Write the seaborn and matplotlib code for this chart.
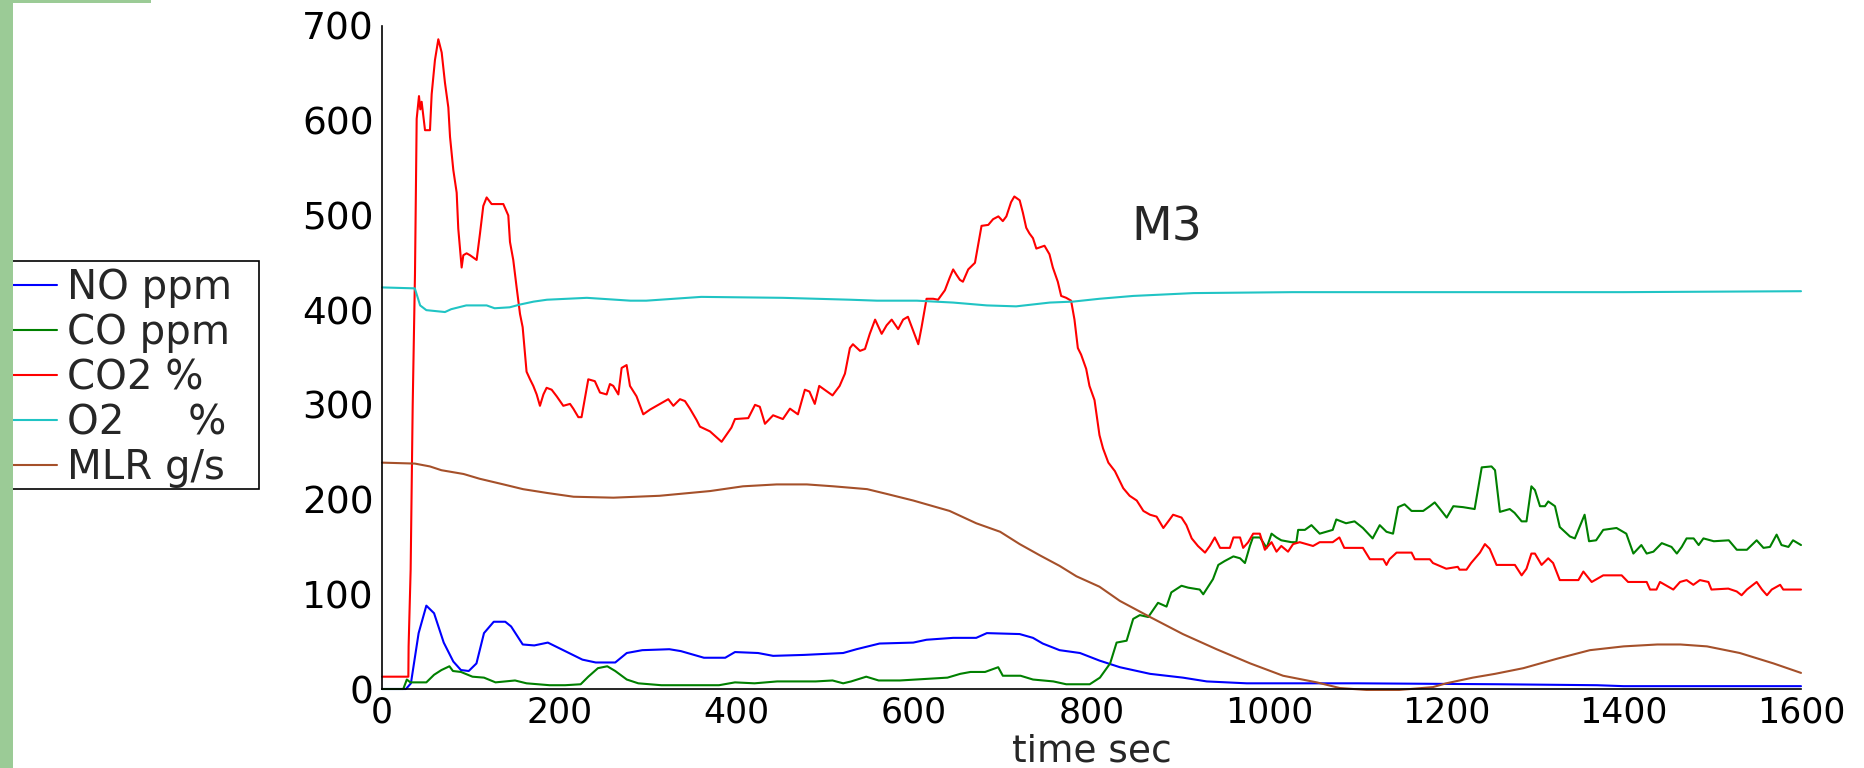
import numpy as np
import pandas as pd
import matplotlib
matplotlib.use("Agg")
import matplotlib.pyplot as plt
import matplotlib.patches as mpatches
import seaborn as sns

# ---------------- data ----------------
labels = ["NO ppm", "CO ppm", "CO2 %", "O2     %", "MLR g/s"]

no_t = [0, 27, 32.6, 41.3, 50, 58.7, 69.6, 80.4, 89, 97.8, 106.5, 115, 126, 139, 145.6, 158.7,
        171.7, 187, 206.5, 226, 241, 263, 276, 293.5, 324, 337, 363, 387, 398, 424, 441, 476,
        520, 535, 561, 599, 614, 644, 670, 682, 719, 734, 745, 764, 787, 809, 832, 866, 903,
        930, 975, 1100, 1260, 1370, 1400, 1600]
no_v = [0, 0, 6, 59, 88, 80, 49, 29, 20, 19, 27, 59, 71, 71, 66, 47,
        46, 49, 40, 31, 28, 28, 38, 41, 42, 40, 33, 33, 39, 38, 35, 36,
        38, 42, 48, 49, 52, 54, 54, 59, 58, 54, 48, 41, 38, 30, 23, 16, 12,
        8, 6, 6, 5, 4, 3, 3]

co_t = [0, 24, 28, 32, 50, 58.7, 67, 76, 80, 89, 102, 115, 128, 150, 163, 189, 206.5, 224,
        232.6, 243.5, 254, 263, 276, 289, 315, 380, 398, 420, 445.6, 489, 508, 520, 529, 546,
        560, 584, 637.6, 652, 663.6, 680, 694.8, 700, 720, 734, 757, 771.5, 798, 809.5, 821,
        828.3, 839.6, 847, 854.5, 864, 875, 884.6, 890, 901.5, 909, 922, 926, 937, 943, 950,
        960, 967.5, 973, 978.6, 982, 990, 997.5, 1003, 1008.6, 1014, 1025.5, 1031, 1033,
        1040.6, 1048, 1057.3, 1072, 1076, 1087, 1096.6, 1106, 1117, 1125, 1132.6, 1140,
        1145.7, 1153, 1160.9, 1174, 1181.5, 1187, 1193, 1200.5, 1208, 1219, 1232, 1234, 1240,
        1251, 1255, 1257, 1260.5, 1271.6, 1277, 1285, 1290.5, 1296, 1300, 1305.7, 1311.3,
        1315, 1322.6, 1328, 1339.5, 1345, 1356, 1361, 1369, 1377, 1392, 1403, 1411, 1420,
        1426, 1433.6, 1443, 1454, 1460, 1465.5, 1471, 1479, 1484.6, 1490, 1501.7, 1518.6,
        1527.6, 1539, 1550, 1557.7, 1565, 1572.5, 1578, 1585.8, 1591, 1600]
co_v = [0, 0, 10, 7, 7, 15, 20, 24, 19, 18, 13, 12, 7, 9, 6, 4, 4, 5,
        13, 22, 24, 19, 10, 6, 4, 4, 7, 6, 8, 8, 9, 6, 8, 13,
        9, 9, 12, 16, 18, 18, 23, 14, 14, 10, 8, 5, 5, 12, 27,
        49, 51, 74, 78, 76, 91, 87, 102, 109, 107, 105, 100, 116, 131, 135,
        140, 138, 133, 151, 160, 160, 149, 164, 160, 157, 155, 155, 168,
        168, 173, 164, 168, 179, 175, 177, 170, 159, 173, 166, 164,
        192, 195, 188, 188, 193, 197, 190, 181, 193, 192, 190, 201, 234,
        235, 231, 215, 187, 190, 186, 177, 177, 214, 210, 193, 193,
        198, 193, 171, 161, 159, 184, 156, 157, 168, 170, 164, 143, 152,
        143, 145, 154, 150, 143, 150, 159, 159, 152, 159, 156, 157,
        147, 147, 157, 149, 150, 163, 152, 150, 157, 152]

co2_t = [0, 29.7, 30, 32.3, 34.6, 37.2, 39.1, 41.7, 43.2, 44.7, 48.5, 54.1, 56, 59.7, 63.5,
         67.3, 71, 74.8, 76.7, 80.4, 84.2, 86, 88, 89.8, 91.7, 95.4, 99.2, 106.7, 110.5, 114.2,
         118, 123.6, 136.8, 138.7, 142.4, 144.3, 148, 151.8, 155.6, 158.6, 161.2, 163, 166.9,
         170.6, 174.4, 178.1, 182, 185.6, 191.3, 197, 204.4, 212, 215.7, 221.4, 225, 232.6,
         240, 245.8, 253.3, 257, 260.8, 266.5, 270.2, 275.8, 279.6, 287, 294.6, 302.2, 309.7,
         317.2, 322.8, 328.5, 336, 341.6, 347.2, 354.7, 358.5, 369.8, 382.9, 394, 398, 413,
         420.6, 426, 431.8, 441, 452, 460, 469, 476.8, 482, 488, 493, 502, 508, 516, 522,
         527.6, 531, 539, 544.6, 550, 556, 563.4, 569, 574.7, 582, 587.6, 593, 599, 604.7,
         608.4, 614, 621.5, 627, 634.7, 640, 644, 648, 651.6, 655, 661, 668.6, 672.4, 676,
         683.6, 689, 695, 700, 704, 709.3, 713, 719, 722.6, 726.4, 730, 734, 737.8, 747,
         752.6, 756.4, 762, 765.8, 771.5, 777, 780.8, 784.6, 788.3, 794, 797.7, 803.4, 809,
         813, 819, 826.4, 835.8, 843, 851, 858.5, 866, 873.4, 881, 886.6, 892, 901.5, 907,
         913, 920, 928, 933.4, 939, 945, 956, 960, 967.5, 971, 976.7, 982.3, 989.8, 995.5,
         1003, 1008.6, 1014, 1021.6, 1027.3, 1034.8, 1049.8, 1057.3, 1072, 1079.5, 1085, 1106,
         1113.9, 1129, 1132.6, 1136, 1144, 1160.9, 1164.6, 1181.5, 1185, 1200, 1213, 1215,
         1222.8, 1228, 1238, 1243.6, 1249, 1256.7, 1277.4, 1285, 1290.5, 1296, 1300, 1307.5,
         1315, 1320.5, 1328, 1349, 1354.6, 1364, 1377, 1397.8, 1405, 1426, 1429.8, 1437,
         1441, 1456, 1463.6, 1471, 1478.6, 1486, 1495.6, 1499, 1518, 1527.5, 1533, 1539,
         1550, 1556, 1561.6, 1567, 1576.5, 1580, 1600]
co2_v = [13, 13, 45, 126, 299, 439, 602, 626, 612, 620, 590, 590, 628, 664, 686,
         672, 640, 614, 583, 548, 524, 486, 465, 445, 458, 460, 458, 453, 481, 510,
         519, 512, 512, 508, 500, 472, 453, 424, 396, 382, 354, 335, 327,
         320, 311, 299, 311, 318, 316, 309, 299, 301, 296, 287, 287, 327,
         325, 313, 311, 322, 320, 311, 339, 342, 320, 309, 290, 295, 299,
         303, 306, 299, 306, 304, 296, 284, 277, 272, 261, 276, 285, 286,
         300, 298, 280, 289, 285, 296, 290, 316, 314, 301, 320, 314, 310, 320, 333,
         360, 364, 357, 359, 375, 390, 375, 384, 390, 380, 390, 393, 378, 364,
         382, 412, 412, 411, 421, 434, 443, 437, 432, 430, 443, 450, 470, 489,
         490, 496, 499, 494, 499, 514, 520, 516, 503, 487, 481, 476, 465, 468,
         459, 445, 430, 415, 413, 410, 390, 360, 353, 338, 320, 305, 268,
         254, 239, 230, 212, 204, 199, 188, 184, 182, 170, 177, 184, 181, 173,
         159, 151, 144, 151, 160, 149, 149, 160, 160, 149, 155, 164, 164, 147,
         155, 145, 151, 145, 153, 155, 151, 155, 155, 160, 149, 149,
         137, 137, 131, 137, 144, 144, 137, 137, 133, 127, 129, 126,
         126, 133, 144, 153, 148, 131, 131, 120, 127, 143, 143, 131,
         138, 133, 115, 115, 124, 113, 120, 120, 113, 113, 105, 105,
         113, 105, 113, 115, 110, 115, 113, 105, 106, 103, 99, 105,
         113, 105, 99, 105, 110, 105, 105]

o2_t = [0, 37, 43, 50, 71, 78, 95, 118, 127, 144, 156, 171, 186, 231, 280, 298, 360, 452,
        528, 558, 603, 644, 682, 715, 753, 779, 809, 847, 915, 1027, 1121, 1260, 1400, 1600]
o2_v = [424, 423, 405, 400, 398, 401, 405, 405, 402, 403, 406, 409, 411, 413, 410, 410, 414, 413,
        411, 410, 410, 408, 405, 404, 408, 409, 412, 415, 418, 419, 419, 419, 419, 420]

mlr_t = [0, 37, 54, 67, 92, 110, 137, 159, 186, 216, 261, 313, 370, 407, 445, 479, 509, 547,
         569, 599, 640, 670, 697, 719, 742, 764, 783, 809, 832, 866, 903, 941, 979, 1016,
         1054, 1080, 1110, 1147, 1185, 1200, 1230, 1255, 1287, 1325, 1362, 1400, 1438, 1464,
         1494, 1531, 1569, 1600]
mlr_v = [239, 238, 235, 231, 227, 222, 216, 211, 207, 203, 202, 204, 209, 214, 216, 216, 214, 211,
         206, 199, 188, 175, 166, 153, 141, 130, 119, 108, 93, 76, 58, 42, 27, 14,
         7, 1, -1, -1, 2, 6, 12, 16, 22, 32, 41, 45, 47, 47,
         45, 38, 27, 17]

x_ticks = [0, 200, 400, 600, 800, 1000, 1200, 1400, 1600]
y_ticks = [0, 100, 200, 300, 400, 500, 600, 700]

colors = ["#0000FF", "#008000", "#FF0000", "#20C4C4", "#A5502A"]

# ---------------- build long table ----------------
frames = []
for lab, t, v in zip(labels, [no_t, co_t, co2_t, o2_t, mlr_t], [no_v, co_v, co2_v, o2_v, mlr_v]):
    frames.append(pd.DataFrame({"t": t, "v": v, "series": lab}))
df = pd.concat(frames, ignore_index=True)

# ---------------- figure ----------------
sns.set_style("white")
plt.rcParams["font.family"] = ["DejaVu Sans"]

W, H = 1865, 768
fig = plt.figure(figsize=(W / 100, H / 100), dpi=100)
ax = fig.add_axes([382 / W, 1 - 689 / H, (1801 - 382) / W, (689 - 26) / H])

sns.lineplot(data=df, x="t", y="v", hue="series", hue_order=labels,
             palette=dict(zip(labels, colors)), estimator=None, sort=False,
             linewidth=1.5, ax=ax, legend=True)
for ln in ax.lines:
    ln.set_clip_on(False)

handles, hl = ax.get_legend_handles_labels()
ax.get_legend().remove()

ax.set_xlim(0, 1600)
ax.set_ylim(0, 700)
ax.set_xticks(x_ticks)
ax.set_yticks(y_ticks)
ax.tick_params(axis="y", direction="in", length=9, width=1.0, labelsize=27, pad=6, colors="black")
ax.tick_params(axis="x", direction="in", length=8, width=1.0, labelsize=25, pad=5, colors="black")
for s in ["top", "right"]:
    ax.spines[s].set_visible(False)
for s in ["left", "bottom"]:
    ax.spines[s].set_color("black")
    ax.spines[s].set_linewidth(1.2)
ax.set_xlabel("time sec", fontsize=27)
ax.xaxis.set_label_coords(0.5, (689 - 733) / 663)
ax.set_ylabel("")
ax.grid(False)

ax.text(845, 474, "M3", fontsize=34, va="baseline", ha="left")

# legend box
fig.patches.append(mpatches.Rectangle((4 / W, 1 - 489 / H), (259 - 4) / W, (489 - 261) / H,
                                      transform=fig.transFigure, facecolor="white",
                                      edgecolor="black", linewidth=1.2, zorder=1))
for h in handles:
    h.set_linewidth(1.5)
leg = fig.legend(handles, hl, loc="upper left", bbox_to_anchor=(5 / W, 1 - 268 / H),
                 bbox_transform=fig.transFigure, frameon=False, fontsize=29,
                 handlelength=1.29, handletextpad=0.25, borderpad=0, borderaxespad=0,
                 labelspacing=0.125)
leg.set_zorder(2)

# green strips of the slide
fig.patches.append(mpatches.Rectangle((0, 0), 13 / W, 1, transform=fig.transFigure,
                                      facecolor="#9BCB96", edgecolor="none", zorder=5))
fig.patches.append(mpatches.Rectangle((0, 1 - 3 / H), 151 / W, 3 / H, transform=fig.transFigure,
                                      facecolor="#9BCB96", edgecolor="none", zorder=5))

fig.savefig("out.png", dpi=100, facecolor="white")
